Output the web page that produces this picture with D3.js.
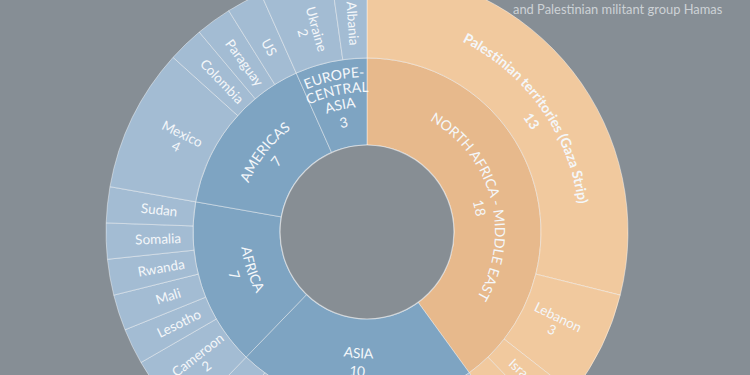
<!DOCTYPE html>
<html>
<head>
<meta charset="utf-8">
<script src="https://cdn.jsdelivr.net/npm/d3@7"></script>
<style>
  html, body { margin: 0; padding: 0; background: #868e95; }
  svg { display: block; }
</style>
</head>
<body>
<svg id="chart" width="750" height="375"></svg>
<script>
// Journalists killed, grouped by region (inner ring) and country (outer ring)
const regions = ["NORTH AFRICA - MIDDLE EAST", "ASIA", "AFRICA", "AMERICAS", "EUROPE-\nCENTRAL\nASIA"];
const regionTone = ["warm", "cool", "cool", "cool", "cool"];

const middleEastCountries = ["Palestinian territories (Gaza Strip)", "Lebanon", "Israel", "Syria"];
const middleEastCounts = [13, 3, 1, 1];
const asiaCountries = ["Philippines", "India", "Pakistan", "Bangladesh", "China", "Nepal"];
const asiaCounts = [3, 2, 2, 1, 1, 1];
const africaCountries = ["Cameroon", "Lesotho", "Mali", "Rwanda", "Somalia", "Sudan"];
const africaCounts = [2, 1, 1, 1, 1, 1];
const americasCountries = ["Mexico", "Colombia", "Paraguay", "US"];
const americasCounts = [4, 1, 1, 1];
const europeCountries = ["Ukraine", "Albania"];
const europeCounts = [2, 1];

const subtitle = "and Palestinian militant group Hamas";

const countryLists = [middleEastCountries, asiaCountries, africaCountries, americasCountries, europeCountries];
const countLists = [middleEastCounts, asiaCounts, africaCounts, americasCounts, europeCounts];

// colours
const bg = "#868e95";
const fills = {
  cool: ["#7ea4c2", "#a3bcd3"],
  warm: ["#e7b98c", "#f1c99e"]
};
const labelColor = "#f4f7fa";
const font = "Lato, 'Open Sans', sans-serif";

// small angular nudges (degrees) for the long curved labels: [name, number]
const curvedNudge = {
  "NORTH AFRICA - MIDDLE EAST": [3, 6],
  "Palestinian territories (Gaza Strip)": [2.5, 4]
};

const svg = d3.select("#chart");
const cx = 367, cy = 232, R = 261;

svg.append("rect").attr("width", 750).attr("height", 375).attr("fill", bg);

svg.append("text")
  .attr("x", 513).attr("y", 13.5)
  .attr("font-family", font)
  .attr("font-size", 12.9)
  .attr("fill", "#cdd2d6")
  .text(subtitle);

const data = {
  name: "root",
  children: regions.map((r, i) => ({
    name: r,
    tone: regionTone[i],
    children: countryLists[i].map((c, j) => ({ name: c, value: countLists[i][j] }))
  }))
};

const root = d3.hierarchy(data)
  .sum(d => d.value || 0)
  .sort((a, b) => b.value - a.value);

d3.partition().size([2 * Math.PI, R])(root);

const toneOf = d => (d.depth === 1 ? d.data.tone : d.parent.data.tone);

const arc = d3.arc()
  .startAngle(d => d.x0)
  .endAngle(d => d.x1)
  .innerRadius(d => d.y0)
  .outerRadius(d => d.y1);

const g = svg.append("g").attr("transform", `translate(${cx},${cy})`);

const nodes = root.descendants().filter(d => d.depth > 0);

g.selectAll("path.slice")
  .data(nodes)
  .join("path")
  .attr("class", "slice")
  .attr("d", arc)
  .attr("fill", d => fills[toneOf(d)][d.depth - 1])
  .attr("stroke", "rgba(255,255,255,0.42)")
  .attr("stroke-width", 1);

// centre hole
g.append("circle")
  .attr("r", root.y1)
  .attr("fill", "#878e94")
  .attr("stroke", "rgba(255,255,255,0.55)")
  .attr("stroke-width", 1.2);

// guide arcs for labels that follow the ring
const defs = svg.append("defs");
let pathId = 0;
function guide(mid, r, bottom) {
  const a0 = mid - 1.35, a1 = mid + 1.35;
  const pt = a => [r * Math.sin(a), -r * Math.cos(a)];
  const id = "guide" + (pathId++);
  let dStr;
  if (!bottom) {
    const [sx, sy] = pt(a0), [ex, ey] = pt(a1);
    dStr = `M${sx},${sy}A${r},${r} 0 0 1 ${ex},${ey}`;
  } else {
    const [sx, sy] = pt(a1), [ex, ey] = pt(a0);
    dStr = `M${sx},${sy}A${r},${r} 0 0 0 ${ex},${ey}`;
  }
  defs.append("path").attr("id", id).attr("d", dStr).attr("transform", `translate(${cx},${cy})`);
  return id;
}

const labels = svg.append("g");

function curvedText(text, id, size, weight) {
  labels.append("text")
    .attr("font-family", font)
    .attr("font-size", size)
    .attr("font-weight", weight)
    .attr("fill", labelColor)
    .append("textPath")
    .attr("href", "#" + id)
    .attr("startOffset", "50%")
    .attr("text-anchor", "middle")
    .text(text);
}

// region labels (inner ring) and very wide country slices, written along the arc
nodes.filter(d => d.depth === 1 || (d.x1 - d.x0) > Math.PI / 2).forEach(d => {
  const mid = (d.x0 + d.x1) / 2;
  const bottom = mid > Math.PI / 2 && mid < 3 * Math.PI / 2;
  const dir = bottom ? 1 : -1; // radius change for moving "down" in the text
  const nudge = (curvedNudge[d.data.name] || [0, 0]).map(v => v * Math.PI / 180);
  const nameLines = d.data.name.split("\n");
  const n = nameLines.length;
  let base, step, numGap, size, weight;
  if (d.depth === 1) {
    base = n > 1 ? 125 : (bottom ? 126.5 : 128);
    step = 15; numGap = 18; size = 14; weight = 400;
  } else {
    base = 213; step = 15; numGap = 19.5; size = 14; weight = 700;
  }
  nameLines.forEach((t, k) => {
    const r = base + dir * (k - (n - 1)) * step;
    curvedText(t, guide(mid + nudge[0], r, bottom), size, weight);
  });
  curvedText(String(d.value), guide(mid + nudge[1], base + dir * numGap, bottom), size, weight);
});

// remaining country labels, written along the radius
nodes.filter(d => d.depth === 2 && (d.x1 - d.x0) <= Math.PI / 2).forEach(d => {
  const mid = (d.x0 + d.x1) / 2;
  const deg = mid * 180 / Math.PI;
  const rot = deg < 180 ? deg - 90 : deg + 90;
  const r = 209;
  const x = cx + r * Math.sin(mid), y = cy - r * Math.cos(mid);
  const t = labels.append("text")
    .attr("transform", `translate(${x},${y}) rotate(${rot})`)
    .attr("font-family", font)
    .attr("font-size", 13.5)
    .attr("fill", labelColor)
    .attr("text-anchor", "middle");
  if (d.value > 1) {
    t.append("tspan").attr("x", 0).attr("y", -2.5).text(d.data.name);
    t.append("tspan").attr("x", 0).attr("y", 11.5).text(d.value);
  } else {
    t.append("tspan").attr("x", 0).attr("y", 4.5).text(d.data.name);
  }
});
</script>
</body>
</html>
